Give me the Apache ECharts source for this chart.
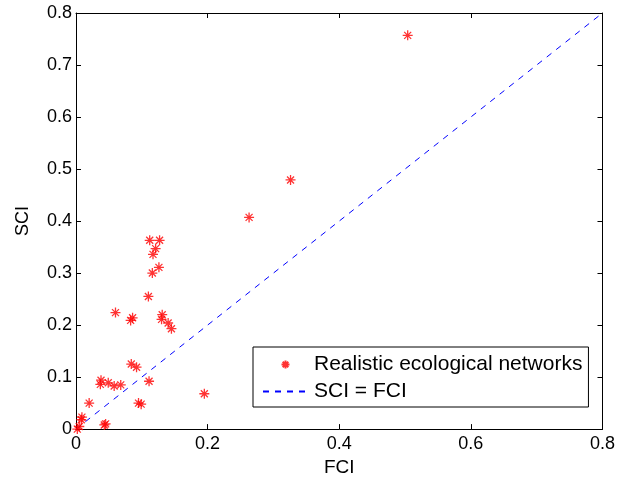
<!DOCTYPE html>
<html><head><meta charset="utf-8">
<script src="https://cdn.jsdelivr.net/npm/echarts@6/dist/echarts.min.js"></script>
<style>html,body{margin:0;padding:0;background:#fff}#c{width:618px;height:482px}</style>
</head><body><div id="c"></div>
<script>
const fci = [0.112,0.127,0.121,0.117,0.126,0.116,0.110,0.060,0.131,0.086,0.083,0.130,0.140,0.145,0.084,0.092,0.038,0.037,0.049,0.058,0.068,0.111,0.020,0.095,0.099,0.195,0.045,0.043,0.009,0.008,0.002,0.005,0.326,0.263,0.504];
const sci = [0.363,0.363,0.347,0.336,0.311,0.300,0.255,0.224,0.220,0.214,0.209,0.211,0.204,0.193,0.125,0.119,0.094,0.086,0.089,0.083,0.085,0.092,0.050,0.050,0.048,0.068,0.010,0.008,0.023,0.018,0.000,0.005,0.479,0.407,0.757];
const lineX = [0, 0.8];
const lineY = [0, 0.8];

const font = 'Liberation Sans, Arial, Helvetica, sans-serif';
const star = 'path://M5,0L5,10M0,5L10,5M1.5,1.5L8.5,8.5M1.5,8.5L8.5,1.5';
const chart = echarts.init(document.getElementById('c'), null, {renderer:'canvas'});
const axCommon = {
  min: 0, max: 0.8, splitLine:{show:false},
  axisLine:{show:true, onZero:false, lineStyle:{color:'#000', width:1}},
  axisTick:{show:true, inside:true, length:5, lineStyle:{color:'#000'}},
};
const fmt = v => String(+v.toFixed(1));
chart.setOption({
  animation:false,
  backgroundColor:'#fff',
  grid:{left:76, right:15, top:13, bottom:52, containLabel:false},
  xAxis:[
    Object.assign({}, axCommon, {type:'value', interval:0.2, position:'bottom',
      axisLabel:{color:'#000', fontSize:18, fontFamily:font, margin:6, formatter:fmt},
      name:'FCI', nameLocation:'middle', nameGap:27, nameTextStyle:{color:'#000', fontSize:19, fontFamily:font}}),
    Object.assign({}, axCommon, {type:'value', interval:0.2, position:'top', axisLabel:{show:false}})
  ],
  yAxis:[
    Object.assign({}, axCommon, {type:'value', interval:0.1, position:'left',
      axisLabel:{color:'#000', fontSize:18, fontFamily:font, margin:4, formatter:fmt},
      name:'SCI', nameLocation:'middle', nameGap:44, nameTextStyle:{color:'#000', fontSize:18, fontFamily:font}}),
    Object.assign({}, axCommon, {type:'value', interval:0.1, position:'right', axisLabel:{show:false}})
  ],
  legend:{
    left:253, top:347, orient:'vertical',
    backgroundColor:'#fff', borderColor:'#000', borderWidth:1,
    padding:[7,6,5,9], itemGap:6, itemWidth:45, itemHeight:8,
    textStyle:{color:'#000', fontSize:21, fontFamily:font, padding:[0,0,0,1]},
    data:[
      {name:'Realistic ecological networks', icon: star},
      {name:'SCI = FCI', itemStyle:{color:'rgba(0,0,0,0)', borderWidth:0, opacity:0}}
    ]
  },
  series:[
    {type:'scatter', name:'Realistic ecological networks',
      data: fci.map((x,i)=>[x, sci[i]]),
      symbol: star, symbolSize:10,
      itemStyle:{color:'rgba(0,0,0,0)', borderColor:'#ff0000', borderWidth:1.3},
      z:3, clip:false},
    {type:'line', name:'SCI = FCI',
      data: lineX.map((x,i)=>[x, lineY[i]]),
      symbol:'none', lineStyle:{color:'#0000ff', width:1, type:[6,6]},
      itemStyle:{color:'#0000ff'}, z:2}
  ]
});
</script></body></html>
